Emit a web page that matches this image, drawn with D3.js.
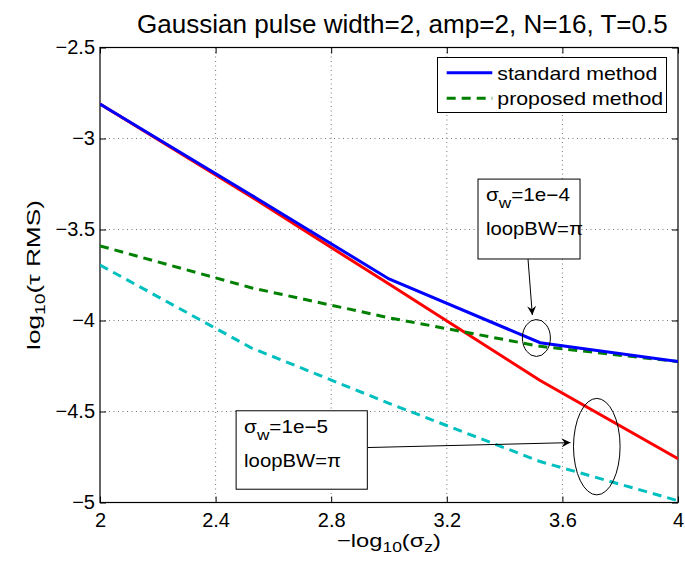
<!DOCTYPE html>
<html><head><meta charset="utf-8">
<script src="https://cdn.jsdelivr.net/npm/d3@7"></script>
<style>body{margin:0;background:#fff}svg{display:block}text{font-family:"Liberation Sans",Arial,sans-serif;fill:#000}</style>
</head><body><div id="chart"></div>
<script>
const xPoints = [2, 2.523, 3, 3.523, 4];
const standardMethod = [-2.81, -3.31, -3.772, -4.122, -4.226];
const proposedMethod = [-3.59, -3.82, -3.985, -4.142, -4.226];
const standardMethod5 = [-2.81, -3.32, -3.80, -4.33, -4.76];
const proposedMethod5 = [-3.695, -4.15, -4.455, -4.775, -4.99];
const xTicks = [2, 2.4, 2.8, 3.2, 3.6, 4];
const yTicks = [-5, -4.5, -4, -3.5, -3, -2.5];
const seriesNames = ["standard method", "proposed method"];

const W = 685, H = 561;
const L = 100, R = 678, T = 47.5, B = 502.5;
const x = d3.scaleLinear().domain([2, 4]).range([L, R]);
const y = d3.scaleLinear().domain([-5, -2.5]).range([B, T]);
const svg = d3.select("#chart").append("svg").attr("width", W).attr("height", H);

// horizontally stretch a text to a target width around an anchor x
function fit(sel, target, ax) {
  const w = sel.node().getComputedTextLength();
  const k = target / w;
  const t0 = sel.attr("transform") || "";
  if (t0) sel.attr("transform", t0 + ` scale(${k},1)`);
  else sel.attr("transform", `translate(${ax},0) scale(${k},1) translate(${-ax},0)`);
}

// grid
svg.append("g").selectAll("line").data(xTicks.slice(1, -1)).join("line")
  .attr("x1", d => x(d)).attr("x2", d => x(d)).attr("y1", T).attr("y2", B)
  .attr("stroke", "#777").attr("stroke-width", 1).attr("stroke-dasharray", "1,3.5");
svg.append("g").selectAll("line").data(yTicks.slice(1, -1)).join("line")
  .attr("y1", d => y(d)).attr("y2", d => y(d)).attr("x1", L).attr("x2", R)
  .attr("stroke", "#777").attr("stroke-width", 1).attr("stroke-dasharray", "1,3.5");

// axes (inward ticks)
const fs = "20px";
const gx = svg.append("g").attr("transform", `translate(0,${B})`)
  .call(d3.axisBottom(x).tickValues(xTicks).tickSizeInner(-6).tickSizeOuter(0).tickPadding(12).tickFormat(d3.format("")));
const gxt = svg.append("g").attr("transform", `translate(0,${T})`)
  .call(d3.axisTop(x).tickValues(xTicks).tickSizeInner(-6).tickSizeOuter(0).tickFormat(""));
const gy = svg.append("g").attr("transform", `translate(${L},0)`)
  .call(d3.axisLeft(y).tickValues(yTicks).tickSizeInner(-6).tickSizeOuter(0).tickPadding(5).tickFormat(d => d3.format("")(d).replace("-", "\u2212")));
const gyr = svg.append("g").attr("transform", `translate(${R},0)`)
  .call(d3.axisRight(y).tickValues(yTicks).tickSizeInner(-6).tickSizeOuter(0).tickFormat(""));
[gx, gxt, gy, gyr].forEach(g => {
  g.select(".domain").remove();
  g.selectAll("line").attr("stroke", "#000");
  g.selectAll("text").style("font-size", fs).attr("fill", "#000").style("font-family", '"Liberation Sans",Arial,sans-serif');
});
gx.selectAll("text").attr("dy", "0.71em").attr("y", 10);
svg.append("rect").attr("x", L).attr("y", T).attr("width", R - L).attr("height", B - T)
  .attr("fill", "none").attr("stroke", "#000").attr("stroke-width", 1.2);

// lines
const line = d3.line().x(d => x(d[0])).y(d => y(d[1]));
const mk = arr => xPoints.map((v, i) => [v, arr[i]]);
const series = [
  {data: standardMethod5, color: "#ff0000", dash: null},
  {data: proposedMethod5, color: "#00bfbf", dash: "9,6"},
  {data: proposedMethod, color: "#008000", dash: "9,6"},
  {data: standardMethod, color: "#0000ff", dash: null}
];
svg.append("clipPath").attr("id", "c").append("rect").attr("x", L).attr("y", T).attr("width", R - L).attr("height", B - T);
series.forEach(s => {
  svg.append("path").datum(mk(s.data)).attr("d", line).attr("fill", "none")
    .attr("stroke", s.color).attr("stroke-width", 3).attr("clip-path", "url(#c)")
    .attr("stroke-dasharray", s.dash);
});

// title
const title = svg.append("text").attr("x", 137).attr("y", 33)
  .style("font-size", "25px").text("Gaussian pulse width=2, amp=2, N=16, T=0.5");
fit(title, 531, 137);

// axis labels
const xl = svg.append("text").attr("x", (L + R) / 2).attr("y", 547).attr("text-anchor", "middle").style("font-size", "19px");
xl.append("tspan").text("\u2212log");
xl.append("tspan").attr("dy", 5).style("font-size", "14px").text("10");
xl.append("tspan").attr("dy", -5).text("(\u03c3");
xl.append("tspan").attr("dy", 5).style("font-size", "14px").text("z");
xl.append("tspan").attr("dy", -5).text(")");
fit(xl, 104, (L + R) / 2);
const yl = svg.append("text").attr("transform", `translate(40,${(T + B) / 2}) rotate(-90)`).attr("text-anchor", "middle").style("font-size", "19px");
yl.append("tspan").text("log");
yl.append("tspan").attr("dy", 5).style("font-size", "14px").text("10");
yl.append("tspan").attr("dy", -5).text("(\u03c4 RMS)");
fit(yl, 150, 0);

// legend
const lg = svg.append("g");
lg.append("rect").attr("x", 437.5).attr("y", 57.5).attr("width", 229).attr("height", 55)
  .attr("fill", "#fff").attr("stroke", "#000").attr("stroke-width", 1);
let legendK = null;
[{c: "#0000ff", d: null}, {c: "#008000", d: "9,6"}].forEach((s, i) => {
  const yy = 72.7 + i * 25.6;
  lg.append("line").attr("x1", 446.7).attr("x2", 492.3).attr("y1", yy).attr("y2", yy)
    .attr("stroke", s.c).attr("stroke-width", 3).attr("stroke-dasharray", s.d);
  const t = lg.append("text").attr("x", 497.3).attr("y", yy + 7).style("font-size", "19px").text(seriesNames[i]);
  if (legendK === null) legendK = 160 / t.node().getComputedTextLength();
  t.attr("transform", `translate(497.3,0) scale(${legendK},1) translate(-497.3,0)`);
});

// annotations
const boxes = [
  {x0: 3.308, x1: 3.661, y0: -3.223, y1: -3.662, sub: "1e\u22124"},
  {x0: 2.471, x1: 2.925, y0: -4.496, y1: -4.927, sub: "1e\u22125"}
];
const arrows = [
  {xa: 3.481, ya: -3.662, xb: 3.496, yb: -3.970},
  {xa: 2.927, ya: -4.698, xb: 3.628, yb: -4.671}
];
const ellipses = [
  {cx: 3.510, cy: -4.096, rx: 0.0484, ry: 0.1016},
  {cx: 3.719, cy: -4.693, rx: 0.0806, ry: 0.265}
];
svg.append("defs").append("marker").attr("id", "ah").attr("viewBox", "0 0 10 10")
  .attr("refX", 10).attr("refY", 5).attr("markerWidth", 14).attr("markerHeight", 9)
  .attr("markerUnits", "userSpaceOnUse").attr("orient", "auto")
  .append("path").attr("d", "M0,0 L10,5 L0,10 L3.5,5 Z").attr("fill", "#000");
ellipses.forEach(e => {
  svg.append("ellipse").attr("cx", x(e.cx)).attr("cy", y(e.cy))
    .attr("rx", x(e.cx + e.rx) - x(e.cx)).attr("ry", y(e.cy) - y(e.cy + e.ry))
    .attr("fill", "none").attr("stroke", "#000").attr("stroke-width", 1);
});
arrows.forEach(a => {
  svg.append("line").attr("x1", x(a.xa)).attr("y1", y(a.ya)).attr("x2", x(a.xb)).attr("y2", y(a.yb))
    .attr("stroke", "#000").attr("stroke-width", 1).attr("marker-end", "url(#ah)");
});
boxes.forEach(b => {
  const bx = x(b.x0), by = y(b.y0);
  svg.append("rect").attr("x", bx).attr("y", by).attr("width", x(b.x1) - bx).attr("height", y(b.y1) - by)
    .attr("fill", "#fff").attr("stroke", "#000").attr("stroke-width", 1);
  const t1 = svg.append("text").attr("x", bx + 8).attr("y", by + 22).style("font-size", "18px");
  t1.append("tspan").text("\u03c3");
  t1.append("tspan").attr("dy", 7).style("font-size", "15px").text("w");
  t1.append("tspan").attr("dy", -7).text("=" + b.sub);
  fit(t1, 84, bx + 8);
  const t2 = svg.append("text").attr("x", bx + 8).attr("y", by + 56).style("font-size", "18px").text("loopBW=\u03c0");
  fit(t2, 97, bx + 8);
});
</script></body></html>
